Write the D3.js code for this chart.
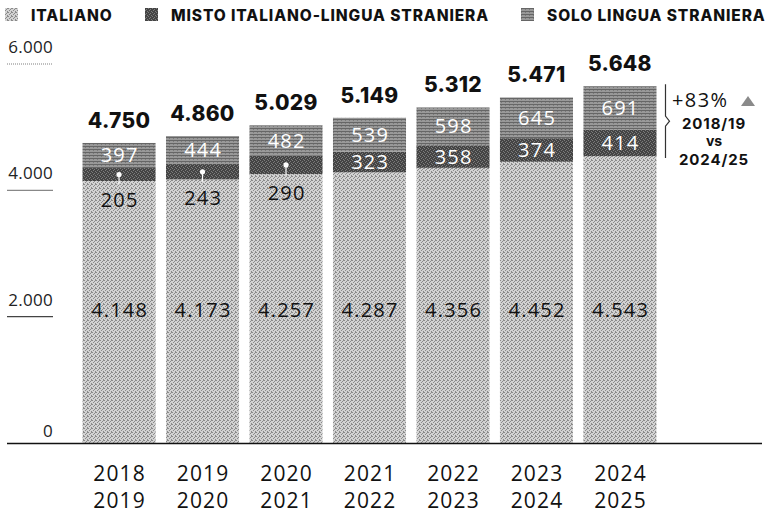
<!DOCTYPE html>
<html><head><meta charset="utf-8">
<script src="https://cdn.jsdelivr.net/npm/d3@7"></script>
<style>
html,body{margin:0;padding:0;background:#fff;}
svg{display:block;font-family:Inter,"Noto Sans",sans-serif;}
.lt{font-family:"Open Sans","Noto Sans",sans-serif;font-weight:400;}
</style></head>
<body><svg id="c" width="767" height="517"></svg>
<script>
const yearStart = ["2018","2019","2020","2021","2022","2023","2024"];
const yearEnd   = ["2019","2020","2021","2022","2023","2024","2025"];
const italiano  = [4148,4173,4257,4287,4356,4452,4543];
const misto     = [205,243,290,323,358,374,414];
const solo      = [397,444,482,539,598,645,691];
const yTicks    = [0,2000,4000,6000];
const seriesNames = ["ITALIANO","MISTO ITALIANO-LINGUA STRANIERA","SOLO LINGUA STRANIERA"];
const annotation = {pct:"+83%", from:"2018/19", vs:"vs", to:"2024/25"};

(function(){
const fmt = d3.formatLocale({decimal:",",thousands:".",grouping:[3],currency:["",""]}).format(",d");
const svg = d3.select("#c");
const defs = svg.append("defs");

function dither(id, base, dot, cells){
  const p = defs.append("pattern").attr("id",id).attr("patternUnits","userSpaceOnUse")
    .attr("width",4).attr("height",4);
  p.append("rect").attr("width",4).attr("height",4).attr("fill",base);
  cells.forEach(([px,py])=>p.append("rect").attr("x",px).attr("y",py).attr("width",1).attr("height",1).attr("fill",dot));
}
dither("pIt","#d2d2d2","#8a8a8a",[[0,0],[2,1],[1,2],[3,3],[3,0]]);
dither("pMi","#444444","#7c7c7c",[[0,0],[2,1],[1,2],[3,3]]);
{
  const p = defs.append("pattern").attr("id","pSo").attr("patternUnits","userSpaceOnUse")
    .attr("width",4).attr("height",3);
  p.append("rect").attr("width",4).attr("height",3).attr("fill","#999");
  p.append("rect").attr("y",2).attr("width",4).attr("height",1).attr("fill","#666");
  p.append("rect").attr("x",1).attr("y",0).attr("width",1).attr("height",1).attr("fill","#7a7a7a");
}
const fills = ["url(#pIt)","url(#pMi)","url(#pSo)"];

const data = yearStart.map((s,i)=>({key:s+"/"+yearEnd[i], s, e:yearEnd[i], it:italiano[i], mi:misto[i], so:solo[i]}));
const stack = d3.stack().keys(["it","mi","so"])(data);

const x = d3.scaleBand().domain(data.map(d=>d.key)).range([80,659]).paddingInner(0.125).paddingOuter(0.03);
const y = d3.scaleLinear().domain([0,6000]).range([443,64]);

const tk = svg.append("g");
yTicks.filter(t=>t>0).forEach(t=>{
  tk.append("line").attr("x1",7).attr("x2",53).attr("y1",y(t)).attr("y2",y(t))
    .attr("stroke", t===6000 ? "#aaa" : (t===4000 ? "#888" : "#444")).attr("stroke-width",1.3)
    .attr("stroke-dasharray", t===6000 ? "1,1" : null);
});
yTicks.forEach(t=>{
  tk.append("text").attr("class","lt").attr("x",53).attr("y", t===0 ? y(t)-6 : y(t)-11).attr("text-anchor","end")
    .attr("font-size",17).attr("font-weight",300).attr("letter-spacing",0.3).attr("fill","#222").text(fmt(t));
});

const g = svg.append("g");
stack.forEach((layer,li)=>{
  g.selectAll(null).data(layer).join("rect")
    .attr("x",d=>x(d.data.key)).attr("width",x.bandwidth())
    .attr("y",d=>y(d[1])).attr("height",d=>y(d[0])-y(d[1]))
    .attr("fill",fills[li]);
});

svg.append("line").attr("x1",7).attr("x2",762).attr("y1",y(0)+0.5).attr("y2",y(0)+0.5)
  .attr("stroke","#111").attr("stroke-width",1.5);

const cx = d=>x(d.key)+x.bandwidth()/2;
const lbl = svg.append("g").attr("text-anchor","middle");

const numText = (sel)=>sel.attr("class","lt").attr("font-size",20).attr("letter-spacing",1.2);

numText(lbl.selectAll(null).data(data).join("text"))
  .attr("x",d=>cx(d)+0.6).attr("y",y(2000)).attr("fill","#111")
  .text(d=>fmt(d.it));

numText(lbl.selectAll(null).data(data).join("text"))
  .attr("x",d=>cx(d)+0.6).attr("y",d=>y(d.it+d.mi+d.so/2)+7).attr("fill","#fff")
  .text(d=>fmt(d.so));

data.forEach((d)=>{
  const mid = y(d.it+d.mi/2);
  if (d.mi < 300){
    lbl.append("line").attr("x1",cx(d)).attr("x2",cx(d)).attr("y1",mid).attr("y2",mid+10)
      .attr("stroke","#fff").attr("stroke-width",1.2);
    lbl.append("circle").attr("cx",cx(d)).attr("cy",mid).attr("r",2.6).attr("fill","#fff");
    numText(lbl.append("text")).attr("x",cx(d)+0.6).attr("y",y(d.it)+26)
      .attr("fill","#111").text(fmt(d.mi));
  } else {
    numText(lbl.append("text")).attr("x",cx(d)+0.6).attr("y",mid+7)
      .attr("fill","#fff").text(fmt(d.mi));
  }
});

lbl.selectAll(null).data(data).join("text")
  .attr("x",cx).attr("y",d=>y(d.it+d.mi+d.so)-15).attr("font-size",21).attr("font-weight",800)
  .attr("letter-spacing",0.3).attr("fill","#111")
  .text(d=>fmt(d.it+d.mi+d.so));

lbl.selectAll(null).data(data).join("text").attr("class","lt")
  .attr("x",d=>cx(d)+0.6).attr("y",481).attr("font-size",21).attr("letter-spacing",1.2).attr("fill","#111").text(d=>d.s);
lbl.selectAll(null).data(data).join("text").attr("class","lt")
  .attr("x",d=>cx(d)+0.6).attr("y",508).attr("font-size",21).attr("letter-spacing",1.2).attr("fill","#111").text(d=>d.e);

const last = data[data.length-1];
const bx = x(last.key)+x.bandwidth()+9;
const yTop = y(last.it+last.mi+last.so)-2, yBot = y(last.it)+2, midY=(yTop+yBot)/2;
svg.append("path").attr("d",`M${bx},${yTop}V${midY-5}L${bx+4},${midY}L${bx},${midY+5}V${yBot}`)
  .attr("fill","none").attr("stroke","#333").attr("stroke-width",1.2);
const ax = 714;
svg.append("text").attr("class","lt").attr("x",672).attr("y",107).attr("font-size",20)
  .attr("letter-spacing",1.4).attr("fill","#111").text(annotation.pct);
svg.append("path").attr("d",`M741,106L748,96L755,106Z`).attr("fill","#8a8a8a");
svg.append("text").attr("x",ax).attr("y",129).attr("text-anchor","middle").attr("font-size",15)
  .attr("font-weight",700).attr("letter-spacing",0.9).attr("fill","#111").text(annotation.from);
svg.append("text").attr("x",ax).attr("y",146).attr("text-anchor","middle").attr("font-size",14)
  .attr("font-weight",700).attr("fill","#111").text(annotation.vs);
svg.append("text").attr("x",ax).attr("y",165).attr("text-anchor","middle").attr("font-size",15)
  .attr("font-weight",700).attr("letter-spacing",0.9).attr("fill","#111").text(annotation.to);

const legX = [5,145,521];
seriesNames.forEach((n,i)=>{
  svg.append("rect").attr("x",legX[i]).attr("y",8).attr("width",13).attr("height",13).attr("fill",fills[i]);
  svg.append("text").attr("x",legX[i]+26).attr("y",21).attr("font-size",15.5).attr("font-weight",800)
    .attr("letter-spacing",0.9).attr("fill","#111").text(n);
});
})();
</script></body></html>
